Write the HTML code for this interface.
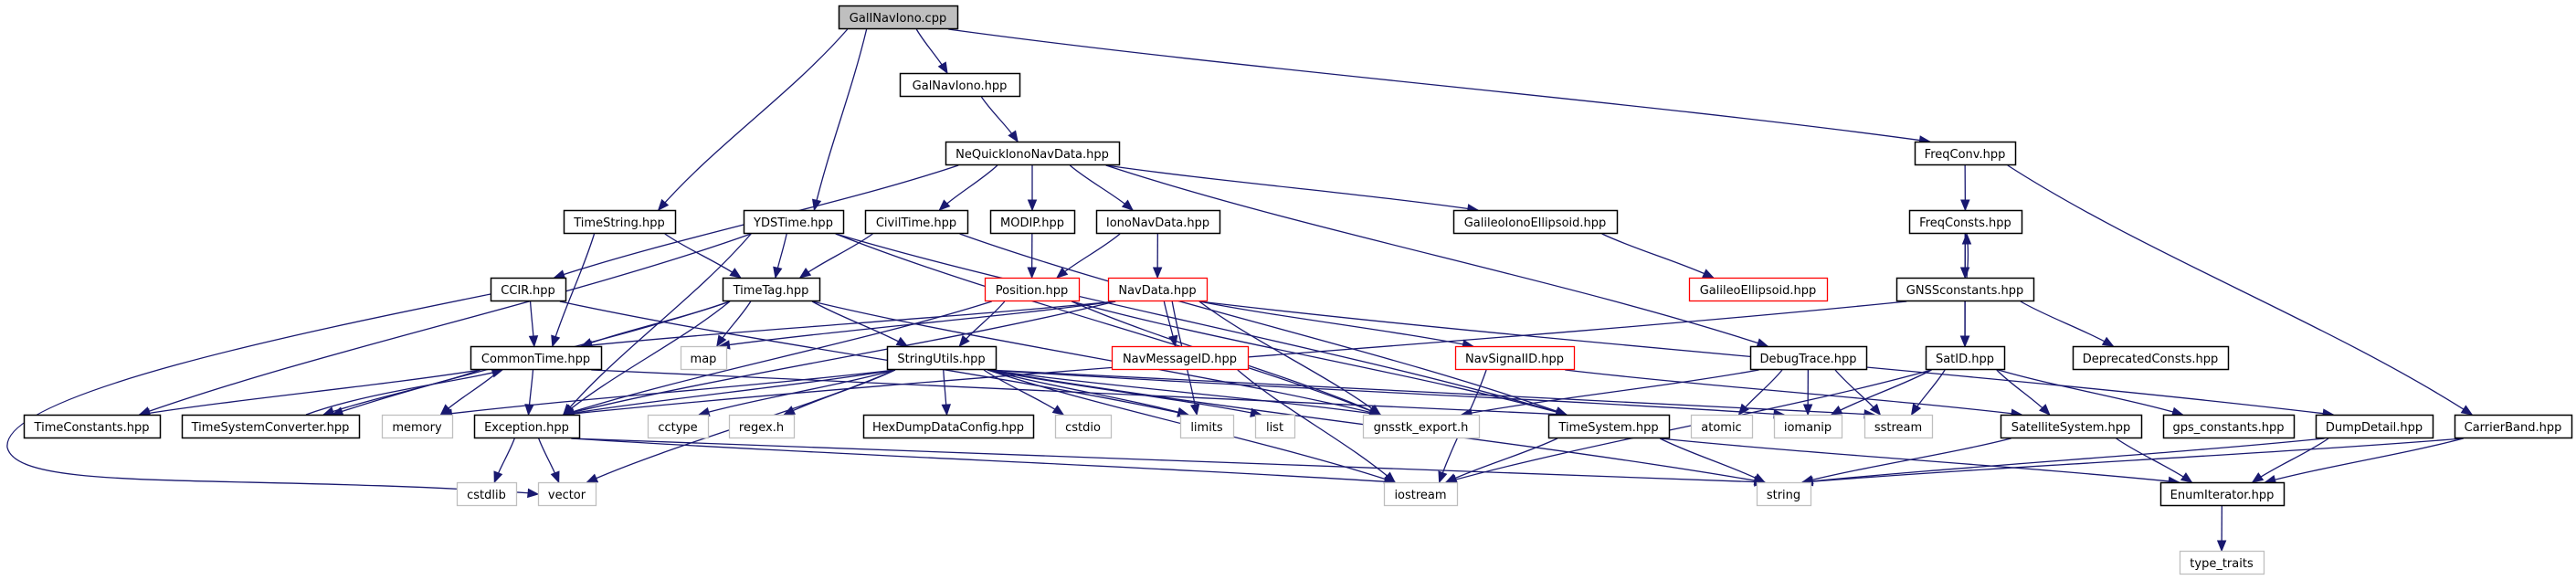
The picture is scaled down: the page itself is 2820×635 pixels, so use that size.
<!DOCTYPE html>
<html><head><meta charset="utf-8">
<style>
html,body{margin:0;padding:0;background:#fff;}
svg{display:block;}
text{font-family:"DejaVu Sans","Liberation Sans",sans-serif;font-size:13px;fill:#000;}
</style></head>
<body>
<svg id="g" width="2820" height="635" viewBox="0 0 2820 635" xmlns="http://www.w3.org/2000/svg">
<g id="edges" fill="none" stroke="#191970" stroke-width="1.3"></g>
<g id="heads" fill="#191970" stroke="#191970"></g>
<g id="nodes"></g>
</svg>
<script>
var R=[6,80,155,230,304,379,454,528,603];
var N={
'GalINavIono.cpp':[918,1048,0,3],
'GalNavIono.hpp':[985,1116,1,0],
'NeQuickIonoNavData.hpp':[1035,1225,2,0],
'FreqConv.hpp':[2096,2206,2,0],
'TimeString.hpp':[617,739,3,0],
'YDSTime.hpp':[814,923,3,0],
'CivilTime.hpp':[947,1059,3,0],
'MODIP.hpp':[1084,1176,3,0],
'IonoNavData.hpp':[1200,1335,3,0],
'GalileoIonoEllipsoid.hpp':[1591,1770,3,0],
'FreqConsts.hpp':[2090,2213,3,0],
'CCIR.hpp':[537,619,4,0],
'TimeTag.hpp':[791,897,4,0],
'Position.hpp':[1078,1181,4,2],
'NavData.hpp':[1213,1321,4,2],
'GalileoEllipsoid.hpp':[1849,2000,4,2],
'GNSSconstants.hpp':[2076,2226,4,0],
'CommonTime.hpp':[515,658,5,0],
'map':[745,795,5,1],
'StringUtils.hpp':[971,1090,5,0],
'NavMessageID.hpp':[1217,1366,5,2],
'NavSignalID.hpp':[1593,1723,5,2],
'DebugTrace.hpp':[1916,2043,5,0],
'SatID.hpp':[2108,2194,5,0],
'DeprecatedConsts.hpp':[2269,2439,5,0],
'TimeConstants.hpp':[26,175,6,0],
'TimeSystemConverter.hpp':[199,393,6,0],
'memory':[418,495,6,1],
'Exception.hpp':[519,634,6,0],
'cctype':[709,775,6,1],
'regex.h':[798,869,6,1],
'HexDumpDataConfig.hpp':[945,1131,6,0],
'cstdio':[1155,1216,6,1],
'limits':[1292,1350,6,1],
'list':[1374,1417,6,1],
'gnsstk_export.h':[1492,1619,6,1],
'TimeSystem.hpp':[1695,1827,6,0],
'atomic':[1851,1918,6,1],
'iomanip':[1942,2016,6,1],
'sstream':[2041,2115,6,1],
'SatelliteSystem.hpp':[2190,2344,6,0],
'gps_constants.hpp':[2368,2511,6,0],
'DumpDetail.hpp':[2535,2663,6,0],
'CarrierBand.hpp':[2687,2815,6,0],
'cstdlib':[500,565,7,1],
'vector':[589,652,7,1],
'iostream':[1515,1595,7,1],
'string':[1923,1982,7,1],
'EnumIterator.hpp':[2365,2500,7,0],
'type_traits':[2386,2478,8,1]
};
var E=[
['GalINavIono.cpp','TimeString.hpp'],['GalINavIono.cpp','YDSTime.hpp'],['GalINavIono.cpp','GalNavIono.hpp'],['GalINavIono.cpp','FreqConv.hpp'],
['GalNavIono.hpp','NeQuickIonoNavData.hpp'],
['NeQuickIonoNavData.hpp','CCIR.hpp'],['NeQuickIonoNavData.hpp','CivilTime.hpp'],['NeQuickIonoNavData.hpp','MODIP.hpp'],['NeQuickIonoNavData.hpp','IonoNavData.hpp'],['NeQuickIonoNavData.hpp','GalileoIonoEllipsoid.hpp'],['NeQuickIonoNavData.hpp','DebugTrace.hpp'],
['FreqConv.hpp','FreqConsts.hpp'],['FreqConv.hpp','CarrierBand.hpp'],
['FreqConsts.hpp','GNSSconstants.hpp'],['FreqConsts.hpp','SatID.hpp'],
['GNSSconstants.hpp','SatID.hpp'],['GNSSconstants.hpp','DeprecatedConsts.hpp'],['GNSSconstants.hpp','Exception.hpp'],
['TimeString.hpp','TimeTag.hpp'],['TimeString.hpp','CommonTime.hpp'],
['YDSTime.hpp','TimeTag.hpp'],['YDSTime.hpp','TimeConstants.hpp'],['YDSTime.hpp','Exception.hpp'],['YDSTime.hpp','gnsstk_export.h'],['YDSTime.hpp','TimeSystem.hpp'],
['CivilTime.hpp','TimeTag.hpp'],['CivilTime.hpp','TimeSystem.hpp'],
['MODIP.hpp','Position.hpp'],['IonoNavData.hpp','Position.hpp'],['IonoNavData.hpp','NavData.hpp'],
['GalileoIonoEllipsoid.hpp','GalileoEllipsoid.hpp'],
['CCIR.hpp','CommonTime.hpp'],['CCIR.hpp','limits'],
['TimeTag.hpp','CommonTime.hpp'],['TimeTag.hpp','map'],['TimeTag.hpp','StringUtils.hpp'],['TimeTag.hpp','TimeSystemConverter.hpp'],['TimeTag.hpp','Exception.hpp'],['TimeTag.hpp','gnsstk_export.h'],
['Position.hpp','StringUtils.hpp'],['Position.hpp','Exception.hpp'],['Position.hpp','gnsstk_export.h'],['Position.hpp','TimeSystem.hpp'],
['NavData.hpp','CommonTime.hpp'],['NavData.hpp','map'],['NavData.hpp','Exception.hpp'],['NavData.hpp','NavMessageID.hpp'],['NavData.hpp','NavSignalID.hpp'],['NavData.hpp','limits'],['NavData.hpp','gnsstk_export.h'],['NavData.hpp','DumpDetail.hpp'],
['NavSignalID.hpp','iostream'],['NavSignalID.hpp','SatelliteSystem.hpp'],['NavMessageID.hpp','iostream'],
['DebugTrace.hpp','atomic'],['DebugTrace.hpp','iomanip'],['DebugTrace.hpp','sstream'],['DebugTrace.hpp','gnsstk_export.h'],
['SatID.hpp','iomanip'],['SatID.hpp','sstream'],['SatID.hpp','SatelliteSystem.hpp'],['SatID.hpp','gps_constants.hpp'],['SatID.hpp','iostream'],
['CommonTime.hpp','TimeConstants.hpp'],['CommonTime.hpp','TimeSystemConverter.hpp'],['CommonTime.hpp','memory'],['CommonTime.hpp','Exception.hpp'],['CommonTime.hpp','TimeSystem.hpp'],
['StringUtils.hpp','Exception.hpp'],['StringUtils.hpp','HexDumpDataConfig.hpp'],['StringUtils.hpp','cstdio'],['StringUtils.hpp','limits'],['StringUtils.hpp','list'],['StringUtils.hpp','gnsstk_export.h'],['StringUtils.hpp','iostream'],['StringUtils.hpp','cctype'],['StringUtils.hpp','regex.h'],['StringUtils.hpp','string'],['StringUtils.hpp','vector'],['StringUtils.hpp','memory'],['StringUtils.hpp','iomanip'],['StringUtils.hpp','sstream'],
['Exception.hpp','cstdlib'],['Exception.hpp','vector'],['Exception.hpp','string'],['Exception.hpp','iostream'],
['TimeSystem.hpp','iostream'],['TimeSystem.hpp','string'],['TimeSystem.hpp','EnumIterator.hpp'],
['SatelliteSystem.hpp','string'],['SatelliteSystem.hpp','EnumIterator.hpp'],
['DumpDetail.hpp','string'],['DumpDetail.hpp','EnumIterator.hpp'],
['CarrierBand.hpp','string'],['CarrierBand.hpp','EnumIterator.hpp'],
['EnumIterator.hpp','type_traits']
];
var NS="http://www.w3.org/2000/svg";
function el(t,a,p){var e=document.createElementNS(NS,t);for(var k in a)e.setAttribute(k,a[k]);p.appendChild(e);return e;}
var eg=document.getElementById('edges'),hg=document.getElementById('heads'),ng=document.getElementById('nodes');
function cx(n){return (N[n][0]+N[n][1])/2;}
function cl(v,a){return Math.max(-a,Math.min(a,v));}
function arrow(x,y,dx,dy){var L=Math.hypot(dx,dy)||1;dx/=L;dy/=L;var l=11,w=4.5;
 var bx=x-dx*l,by=y-dy*l;
 el('polygon',{points:x+','+y+' '+(bx-dy*w)+','+(by+dx*w)+' '+(bx+dy*w)+','+(by-dx*w)},hg);}
E.forEach(function(e){
 var s=N[e[0]],t=N[e[1]];
 var sx=cx(e[0]),tx=cx(e[1]);
 var sw=(s[1]-s[0])/2,tw=(t[1]-t[0])/2;
 var x1=sx+cl((tx-sx)*0.3,sw*0.85),y1=R[s[2]]+26;
 var x2=tx+cl((sx-tx)*0.2,tw*0.7),y2=R[t[2]];
 var dx=x2-x1,dy=y2-y1;
 var c1x=x1+dx*0.3,c1y=y1+dy*0.36,c2x=x2-dx*0.3,c2y=y2-dy*0.36;
 el('path',{d:'M'+x1+','+y1+' C'+c1x+','+c1y+' '+c2x+','+c2y+' '+x2+','+y2},eg);
 arrow(x2,y2,x2-c2x,y2-c2y);
});
// CCIR -> vector big loop on the left
el('path',{d:'M537,322 C350,360 0,430 8,490 C20,540 250,518 582,540'},eg);arrow(589,541,10,1);
// back edges
el('path',{d:'M2153,304 C2155,285 2155,270 2153,257'},eg);arrow(2153,256,0,-12);
el('path',{d:'M335,454 C400,430 500,418 548,406'},eg);arrow(550,405,10,-3);
for(var n in N){var d=N[n],y=R[d[2]],w=d[1]-d[0];
 var st=d[3]==1?'#bfbfbf':(d[3]==2?'#ff0000':'#000');
 el('rect',{x:d[0]+0.5,y:y+0.5,width:w,height:25,fill:d[3]==3?'#bfbfbf':'#fff',stroke:st,'stroke-width':d[3]==2||d[3]==1?1.3:1.5},ng);
 var t=el('text',{x:d[0]+w/2,y:y+18,'text-anchor':'middle'},ng);t.textContent=n;}
</script>
</body></html>
